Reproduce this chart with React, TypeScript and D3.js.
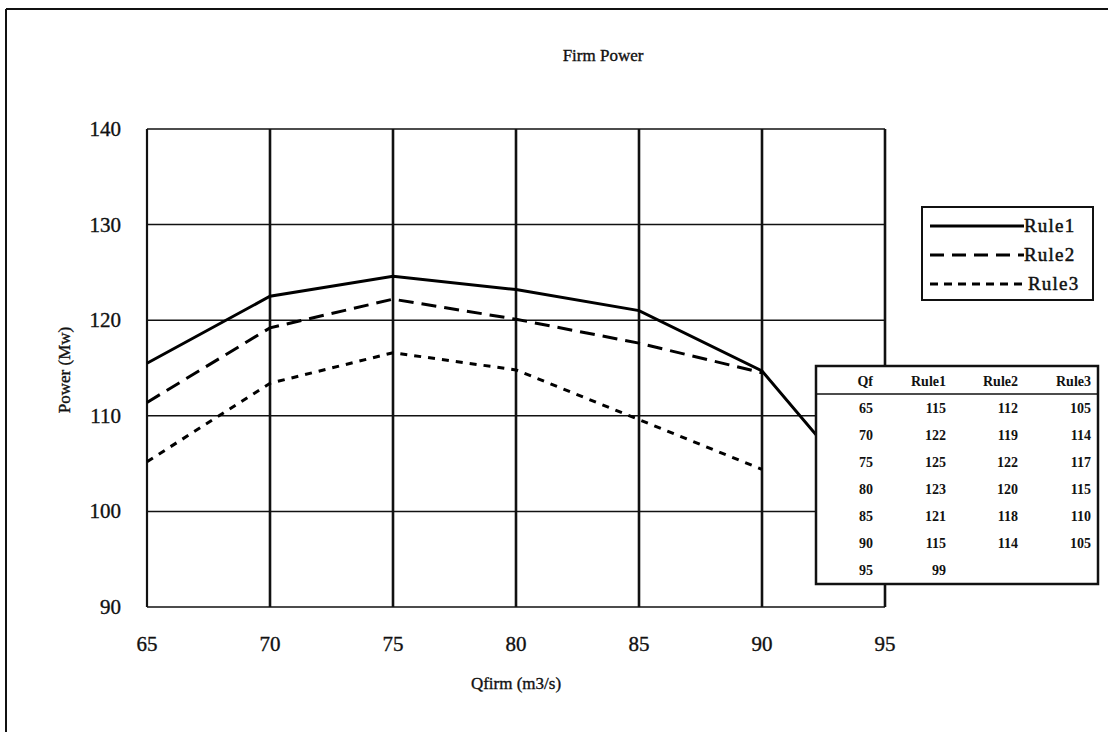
import React from "react";
import * as d3 from "d3";

const qf = [65, 70, 75, 80, 85, 90, 95];
const rule1 = [115.5, 122.5, 124.6, 123.2, 121.0, 114.7, 99.5];
const rule2 = [111.4, 119.2, 122.2, 120.1, 117.6, 114.5];
const rule3 = [105.2, 113.4, 116.6, 114.8, 109.6, 104.4];

const tableHead = ["Qf", "Rule1", "Rule2", "Rule3"];
const tableQf = ["65", "70", "75", "80", "85", "90", "95"];
const tableRule1 = ["115", "122", "125", "123", "121", "115", "99"];
const tableRule2 = ["112", "119", "122", "120", "118", "114", ""];
const tableRule3 = ["105", "114", "117", "115", "110", "105", ""];

const xTicks = [65, 70, 75, 80, 85, 90, 95];
const yTicks = [90, 100, 110, 120, 130, 140];

const seriesNames = ["Rule1", "Rule2", "Rule3"];

export default function App() {
  const W = 1108, H = 732;
  const L = 147, R = 885, T = 129, B = 607;
  const x = d3.scaleLinear().domain([65, 95]).range([L, R]);
  const y = d3.scaleLinear().domain([90, 140]).range([B, T]);
  const serif = "'Liberation Serif', 'Times New Roman', serif";

  const mk = (vals: number[]) =>
    d3.line<number>().x((_, i) => x(qf[i])).y((v) => y(v))(vals) || "";

  const series = [
    { name: seriesNames[0], vals: rule1, dash: undefined as string | undefined, legDash: undefined as string | undefined },
    { name: seriesNames[1], vals: rule2, dash: "15 8", legDash: "14 8" },
    { name: seriesNames[2], vals: rule3, dash: "7 7", legDash: "8 6" },
  ];

  // table geometry
  const tL = 816, tR = 1098, tT = 366, tHead = 394, tB = 584;
  const rowH = (tB - tHead) / tableQf.length;
  const colRight = [873, 946, 1018, 1091];

  const cols = [tableQf, tableRule1, tableRule2, tableRule3];
  const heavy = { stroke: "#111", strokeWidth: 0.35 };

  return (
    <svg
      width={W}
      height={H}
      style={{ position: "absolute", left: 0, top: 0, background: "#fff" }}
      fontFamily={serif}
    >
      <rect x={0} y={0} width={W} height={H} fill="#fff" />
      {/* outer frame */}
      <line x1={6} y1={9} x2={W} y2={9} stroke="#111" strokeWidth={1.8} />
      <line x1={6} y1={9} x2={6} y2={H} stroke="#111" strokeWidth={2} />

      {/* title */}
      <text x={603} y={61} textAnchor="middle" fontSize={17} fill="#111" {...heavy}>
        Firm Power
      </text>

      {/* horizontal grid */}
      {yTicks.map((t) => (
        <line key={"h" + t} x1={L} x2={R} y1={y(t)} y2={y(t)} stroke="#111" strokeWidth={1.5} />
      ))}
      {/* vertical grid */}
      {xTicks.map((t) => (
        <line key={"v" + t} x1={x(t)} x2={x(t)} y1={T} y2={B} stroke="#111" strokeWidth={t === 65 ? 2.2 : 2.6} />
      ))}

      {/* y tick labels */}
      {yTicks.map((t) => (
        <text key={"yl" + t} x={121} y={y(t) + 7} textAnchor="end" fontSize={21} fill="#111" {...heavy}>
          {t}
        </text>
      ))}
      {/* x tick labels */}
      {xTicks.map((t) => (
        <text key={"xl" + t} x={x(t)} y={651} textAnchor="middle" fontSize={21} fill="#111" {...heavy}>
          {t}
        </text>
      ))}

      {/* axis titles */}
      <text x={516} y={689} textAnchor="middle" fontSize={17} fill="#111" {...heavy}>
        Qfirm (m3/s)
      </text>
      <text
        transform={`translate(70,${370}) rotate(-90)`}
        textAnchor="middle"
        fontSize={17}
        fill="#111"
        {...heavy}
      >
        Power (Mw)
      </text>

      {/* series */}
      {series.map((s) => (
        <path
          key={s.name}
          d={mk(s.vals)}
          fill="none"
          stroke="#000"
          strokeWidth={3}
          strokeDasharray={s.dash}
        />
      ))}

      {/* legend */}
      <rect x={922} y={207} width={171} height={93} fill="#fff" stroke="#111" strokeWidth={2} />
      {series.map((s, i) => (
        <g key={"lg" + s.name}>
          <line
            x1={930}
            x2={1024}
            y1={226 + i * 29}
            y2={226 + i * 29}
            stroke="#000"
            strokeWidth={3}
            strokeDasharray={s.legDash}
          />
          <text
            x={i === 2 ? 1028 : 1024}
            y={232 + i * 29}
            fontSize={19}
            letterSpacing={1.2}
            fill="#111"
            stroke="#111"
            strokeWidth={0.5}
          >
            {s.name}
          </text>
        </g>
      ))}

      {/* data table */}
      <rect x={tL} y={tT} width={tR - tL} height={tB - tT} fill="#fff" stroke="#111" strokeWidth={2.5} />
      <line x1={tL} x2={tR} y1={tHead} y2={tHead} stroke="#111" strokeWidth={1.5} />
      {tableHead.map((h, c) => (
        <text
          key={"th" + h}
          x={colRight[c]}
          y={tHead - 8}
          textAnchor="end"
          fontSize={14}
          fontWeight="bold"
          fill="#111"
        >
          {h}
        </text>
      ))}
      {cols.map((col, c) =>
        col.map((v, r) => (
          <text
            key={`td${c}-${r}`}
            x={colRight[c]}
            y={tHead + rowH * (r + 0.5) + 5}
            textAnchor="end"
            fontSize={14}
            fontWeight="bold"
            fill="#111"
          >
            {v}
          </text>
        ))
      )}
    </svg>
  );
}
